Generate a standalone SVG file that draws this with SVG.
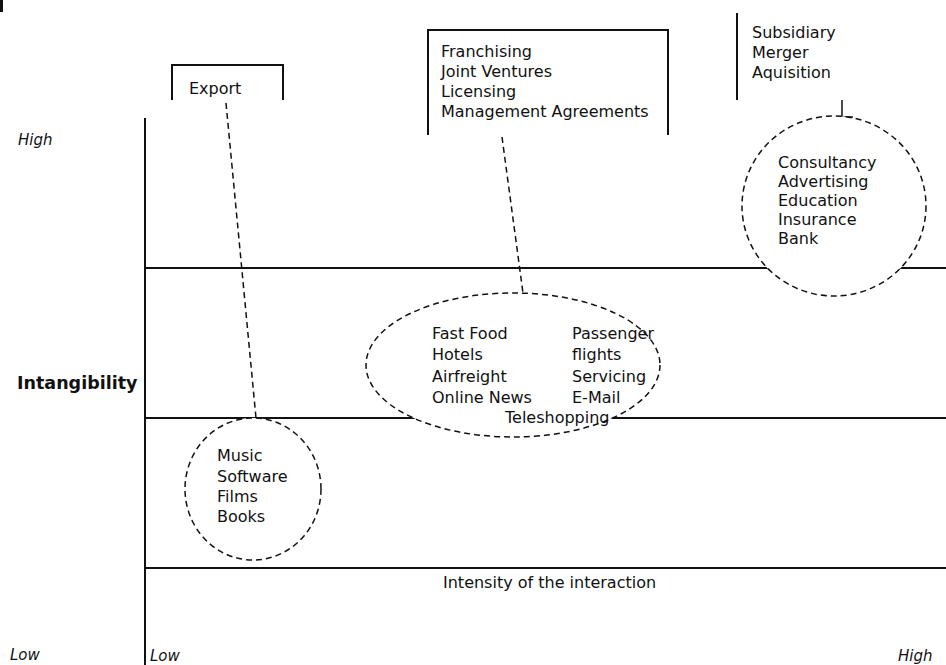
<svg xmlns="http://www.w3.org/2000/svg" width="946" height="665" viewBox="0 0 946 665">
<style>
text{font-family:"DejaVu Sans","Liberation Sans",sans-serif;font-size:16px;fill:#111}
.ax{stroke:#111;stroke-width:2;fill:none}
.box{stroke:#111;stroke-width:2;fill:none}
.bub{stroke:#111;stroke-width:1.5;fill:#fff;stroke-dasharray:6 4}
.con{stroke:#111;stroke-width:1.5;fill:none;stroke-dasharray:6 4}
.it{font-style:italic;font-size:15px}
</style>
<rect width="946" height="665" fill="#fff"/>
<rect x="0" y="0" width="3" height="12" fill="#111"/>
<g id="axes">
<line class="ax" x1="145" y1="118" x2="145" y2="665"/>
<line class="ax" x1="145" y1="268" x2="946" y2="268"/>
<line class="ax" x1="145" y1="418" x2="946" y2="418"/>
<line class="ax" x1="145" y1="568" x2="946" y2="568"/>
<text x="18" y="145" class="it">High</text>
<text x="10" y="660" class="it">Low</text>
<text x="150" y="661" class="it">Low</text>
<text x="898" y="661" class="it">High</text>
<text x="17" y="389" style="font-weight:bold;font-size:17.5px">Intangibility</text>
<text x="443" y="588">Intensity of the interaction</text>
</g>
<g id="connectors">
<line class="con" x1="226" y1="103" x2="256" y2="418"/>
<line class="con" x1="502" y1="137" x2="523" y2="293"/>
<polyline class="con" points="842,100 842,117 853,117" style="stroke-dasharray:none"/>
</g>
<g id="export">
<polyline class="box" points="172,100 172,65 283,65 283,100"/>
<text x="189" y="94">Export</text>
</g>
<g id="franchising">
<polyline class="box" points="428,135 428,30 668,30 668,135"/>
<text x="441" y="57">Franchising</text>
<text x="441" y="77">Joint Ventures</text>
<text x="441" y="97">Licensing</text>
<text x="441" y="117">Management Agreements</text>
</g>
<g id="subsidiary">
<line class="box" x1="737" y1="13" x2="737" y2="100"/>
<text x="752" y="38">Subsidiary</text>
<text x="752" y="58">Merger</text>
<text x="752" y="78">Aquisition</text>
</g>
<g id="consultancy">
<ellipse class="bub" cx="834" cy="206" rx="92" ry="90"/>
<text x="778" y="168">Consultancy</text>
<text x="778" y="187">Advertising</text>
<text x="778" y="206">Education</text>
<text x="778" y="225">Insurance</text>
<text x="778" y="244">Bank</text>
</g>
<g id="services">
<ellipse class="bub" cx="513" cy="365" rx="147" ry="72"/>
<text x="432" y="339">Fast Food</text>
<text x="432" y="360">Hotels</text>
<text x="432" y="382">Airfreight</text>
<text x="432" y="403">Online News</text>
<text x="572" y="339">Passenger</text>
<text x="572" y="360">flights</text>
<text x="572" y="382">Servicing</text>
<text x="572" y="403">E-Mail</text>
<text x="505" y="423">Teleshopping</text>
</g>
<g id="music">
<ellipse class="bub" cx="253" cy="489" rx="68" ry="71"/>
<text x="217" y="461">Music</text>
<text x="217" y="482">Software</text>
<text x="217" y="502">Films</text>
<text x="217" y="522">Books</text>
</g>
</svg>
